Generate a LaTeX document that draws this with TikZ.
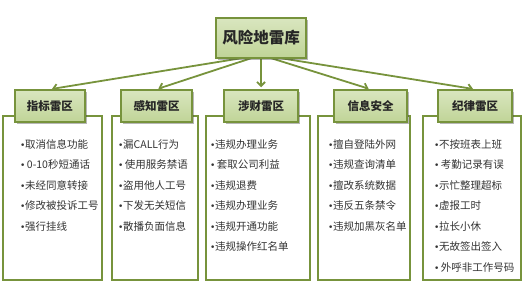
\documentclass[tikz,border=0pt]{standalone}
\usepackage{fontspec}
\setmainfont{Noto Sans CJK SC}
\newfontfamily\bulfont{DejaVu Sans}
\usetikzlibrary{shadows,arrows.meta,backgrounds}
\definecolor{ogreen}{HTML}{77933C}
\definecolor{lgA}{HTML}{D9E6BF}
\definecolor{lgB}{HTML}{C0D497}
\newcommand\bul{\makebox[5pt][l]{{\bulfont\fontsize{9}{9}\selectfont•}}}
\begin{document}
\begin{tikzpicture}[x=1pt,y=-1pt,
  hdr/.style={draw=ogreen, line width=1.5pt, top color=lgA, bottom color=lgB,
    minimum height=32pt, inner sep=0pt,
    font=\fontsize{11.5}{12}\selectfont\bfseries, text=black!85,
    drop shadow={shadow xshift=2pt, shadow yshift=-2pt, opacity=.4, fill=black!70}},
  rootbox/.style={hdr, minimum width=90pt, minimum height=40pt,
    font=\fontsize{15.5}{16}\selectfont\bfseries},
  listbox/.style={draw=ogreen, line width=1.5pt, fill=white, minimum height=164pt, inner sep=0pt},
  listtext/.style={anchor=north west, align=left, inner sep=0pt,
    font=\fontsize{10.5}{20.5}\selectfont, text=black!80},
  conn/.style={draw=ogreen, line width=1.8pt, -{Straight Barb[length=4pt,width=8pt]}, shorten >=2pt}
]
\useasboundingbox (0,0) rectangle (528,284);
% content boxes
\node[listbox, minimum width=99pt] (b1) at (52.5,198) {};
\node[listbox, minimum width=86pt] (b2) at (155,198) {};
\node[listbox, minimum width=104pt] (b3) at (258,198) {};
\node[listbox, minimum width=92pt] (b4) at (364,198) {};
\node[listbox, minimum width=98pt] (b5) at (472,198) {};
% headers
\node[hdr, minimum width=70pt] (h1) at (50,106) {指标雷区};
\node[hdr, minimum width=71pt] (h2) at (156.5,106) {感知雷区};
\node[hdr, minimum width=74pt] (h3) at (261,106) {涉财雷区};
\node[hdr, minimum width=73pt] (h4) at (370.5,106) {信息安全};
\node[hdr, minimum width=74pt] (h5) at (475,106) {纪律雷区};
% root
\node[rootbox] (root) at (261,38) {风险地雷库};
\coordinate (hub) at (261,55);
% lists
\node[listtext] (t1) at (20,139) {\bul 取消信息功能\\\bul\,0-10秒短通话\\\bul 未经同意转接\\\bul 修改被投诉工号\\\bul 强行挂线};
\node[listtext] (t2) at (118,139) {\bul 漏CALL行为\\\bul\,使用服务禁语\\\bul 盗用他人工号\\\bul 下发无关短信\\\bul 散播负面信息};
\node[listtext] (t3) at (210,139) {\bul 违规办理业务\\\bul\,套取公司利益\\\bul 违规退费\\\bul 违规办理业务\\\bul 违规开通功能\\\bul 违规操作红名单};
\node[listtext] (t4) at (328,139) {\bul 擅自登陆外网\\\bul 违规查询清单\\\bul 擅改系统数据\\\bul 违反五条禁令\\\bul 违规加黑灰名单};
\node[listtext] (t5) at (434,139) {\bul 不按班表上班\\\bul\,考勤记录有误\\\bul 示忙整理超标\\\bul 虚报工时\\\bul 拉长小休\\\bul 无故签出签入\\\bul\,外呼非工作号码};
% connectors
\begin{pgfonlayer}{background}
\draw[conn] (hub) -- (h1.north);
\draw[conn] (hub) -- (h2.north);
\draw[conn] (hub) -- (h3.north);
\draw[conn] (hub) -- (h4.north);
\draw[conn] (hub) -- (h5.north);
\end{pgfonlayer}
\end{tikzpicture}
\end{document}
